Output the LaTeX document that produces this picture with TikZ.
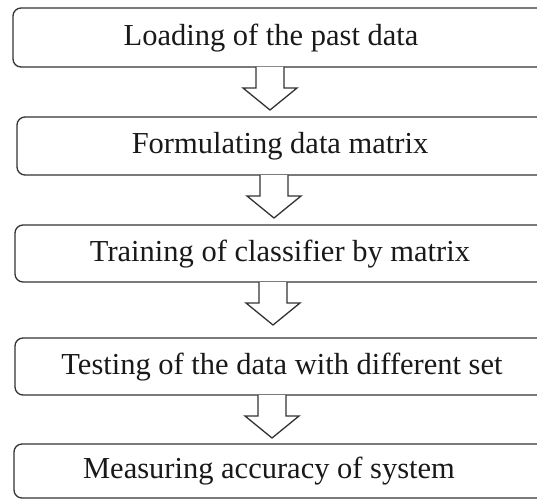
\documentclass[tikz,border=0pt]{standalone}
\usepackage{fontspec}
\setmainfont{Liberation Serif}
\begin{document}
\begin{tikzpicture}[x=1pt,y=-1pt,
  box/.style={draw=black!80,line width=1.3pt,rounded corners=8pt,fill=white,minimum width=546pt,inner sep=0pt,outer sep=0pt},
  lbl/.style={font=\fontsize{30.5}{36}\selectfont,inner sep=0pt,anchor=center,text=black!90},
  blk/.style={draw=black!80,line width=1.3pt,fill=white,line join=miter}]
\useasboundingbox (0,0) rectangle (537,500);
\clip (0,0) rectangle (537,500);
\fill[white] (0,0) rectangle (537,500);
% boxes
\node[box,minimum height=59pt] (n1) at (286,37.5) {};
\node[box,minimum height=58pt] (n2) at (290,146) {};
\node[box,minimum height=57pt] (n3) at (288,253.5) {};
\node[box,minimum height=57pt] (n4) at (288,366.5) {};
\node[box,minimum height=54pt] (n5) at (287,471) {};
% labels
\node[lbl] (t1) at (271,38) {Loading of the past data};
\node[lbl] (t2) at (280,146) {Formulating data matrix};
\node[lbl] (t3) at (280,254) {Training of classifier by matrix};
\node[lbl] (t4) at (282,367) {Testing of the data with different set};
\node[lbl] (t5) at (269,471) {Measuring accuracy of system};
% arrow start points on the box bottoms
\path (n1.south west) ++(257,0) coordinate (a1);
\path (n2.south west) ++(257,0) coordinate (a2);
\path (n3.south west) ++(258,0) coordinate (a3);
\path (n4.south west) ++(257,0) coordinate (a4);
% block arrows
\foreach \a in {a1,a2,a3,a4}{
  \draw[blk] (\a) ++(-14,0) -- ++(0,21) -- ++(-13,0) -- ++(27,22) -- ++(27,-22) -- ++(-13,0) -- ++(0,-21);
}
\end{tikzpicture}
\end{document}
